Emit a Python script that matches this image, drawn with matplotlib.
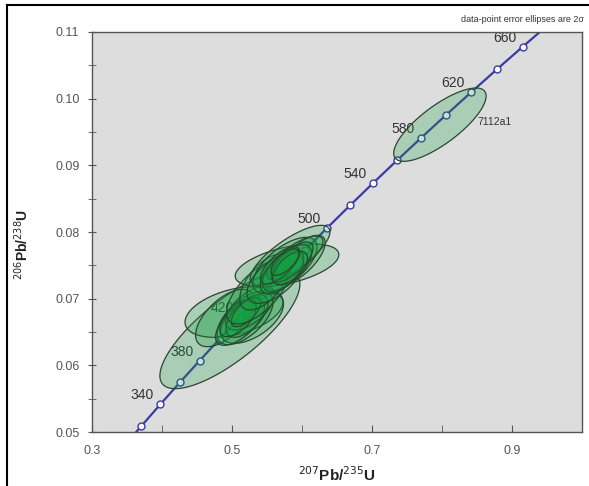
import matplotlib
matplotlib.use('Agg')
import matplotlib.pyplot as plt
import numpy as np
from matplotlib.patches import Polygon
from matplotlib.lines import Line2D

plt.rcParams['font.family'] = ['Liberation Sans', 'DejaVu Sans']

# concordia points (Ma) and their ratios
ages = [300, 320, 340, 360, 380, 400, 420, 440, 460, 480, 500,
        520, 540, 560, 580, 600, 620, 640, 660, 680, 700]
conc_x = [0.3437, 0.3705, 0.3977, 0.4255, 0.4539, 0.4828, 0.5123, 0.5424,
          0.5731, 0.6044, 0.6363, 0.6688, 0.7020, 0.7359, 0.7704, 0.8056,
          0.8415, 0.8782, 0.9155, 0.9536, 0.9925]
conc_y = [0.04764, 0.05089, 0.05416, 0.05743, 0.06072, 0.06402, 0.06732,
          0.07064, 0.07397, 0.07730, 0.08065, 0.08401, 0.08738, 0.09076,
          0.09414, 0.09754, 0.10095, 0.10438, 0.10781, 0.11125, 0.11470]
label_ages = [340, 380, 420, 500, 540, 580, 620, 660]

# error ellipses: centre, 2 sigma half-widths, correlation
ell_x = [0.497, 0.5029, 0.49, 0.5286, 0.5186, 0.5114, 0.5257, 0.5214,
         0.5086, 0.52,
         0.5371, 0.5471,
         0.5786, 0.5829, 0.5757, 0.5614, 0.5971, 0.59, 0.5786, 0.5714,
         0.5857, 0.5686, 0.5829, 0.5757,
         0.797]
ell_y = [0.0653, 0.0680, 0.0671, 0.0671, 0.0671, 0.0665, 0.0686, 0.0674,
         0.0671, 0.0680,
         0.0710, 0.0725,
         0.0750, 0.0765, 0.0750, 0.0731, 0.0758, 0.0761, 0.0746, 0.0740,
         0.0755, 0.0750, 0.0746, 0.0755,
         0.0961]
ell_ex = [0.100, 0.070, 0.042, 0.045, 0.040, 0.035, 0.035, 0.030,
          0.026, 0.021,
          0.045, 0.036,
          0.074, 0.057, 0.046, 0.040, 0.036, 0.040, 0.035, 0.031,
          0.030, 0.028, 0.025, 0.020,
          0.066]
ell_ey = [0.0088, 0.0038, 0.0043, 0.0038, 0.0040, 0.0035, 0.0033, 0.0032,
          0.0028, 0.0022,
          0.0048, 0.0042,
          0.0032, 0.0045, 0.0042, 0.0038, 0.0037, 0.0033, 0.0035, 0.0033,
          0.0030, 0.0028, 0.0025, 0.0020,
          0.0055]
ell_rho = [0.78, 0.4, 0.6, 0.55, 0.6, 0.65, 0.6, 0.6,
           0.6, 0.65,
           0.65, 0.6,
           0.5, 0.78, 0.65, 0.6, 0.7, 0.75, 0.65, 0.6,
           0.7, 0.7, 0.6, 0.65,
           0.78]

fig = plt.figure(figsize=(5.89, 4.86), dpi=100)
ax = fig.add_axes([92/589, 54/486, 490/589, 400/486])
ax.set_facecolor('#dddddd')

line_c = '#3b3ba3'
ax.plot(conc_x, conc_y, color=line_c, lw=1.6, zorder=2,
        marker='o', ms=5, mfc='white', mec=line_c, mew=1.0)

for a in label_ages:
    i = ages.index(a)
    ax.annotate(str(a), (conc_x[i], conc_y[i]), xytext=(-18, 9),
                textcoords='offset pixels', ha='center', va='center',
                fontsize=10, color='#333333', zorder=1)

t = np.linspace(0, 2*np.pi, 120)
for cx, cy, ex, ey, r in zip(ell_x, ell_y, ell_ex, ell_ey, ell_rho):
    px = cx + ex*np.cos(t)
    py = cy + ey*(r*np.cos(t) + np.sqrt(1 - r**2)*np.sin(t))
    ax.add_patch(Polygon(np.column_stack([px, py]), closed=True,
                         facecolor=(0.08, 0.62, 0.25, 0.25),
                         edgecolor='#2a4630', lw=0.9, zorder=3))

ax.text(0.875, 0.0965, '7112a1', fontsize=7.5, color='#333333',
        ha='center', va='center', zorder=4)

ax.set_xlim(0.3, 1.0)
ax.set_ylim(0.05, 0.11)
ax.set_xticks([0.3, 0.5, 0.7, 0.9])
ax.set_xticklabels(['0.3', '0.5', '0.7', '0.9'])
ax.set_xticks([0.4, 0.6, 0.8], minor=True)
yt = [0.05, 0.06, 0.07, 0.08, 0.09, 0.10, 0.11]
ax.set_yticks(yt)
ax.set_yticklabels(['%.2f' % v for v in yt])
ax.set_yticks([0.055, 0.065, 0.075, 0.085, 0.095, 0.105], minor=True)
ax.tick_params(axis='x', which='both', direction='in', length=5,
               colors='#555555', labelsize=9, pad=9)
ax.tick_params(axis='y', which='both', direction='inout', length=6,
               colors='#555555', labelsize=9, pad=6)
for s in ax.spines.values():
    s.set_color('#555555')
    s.set_linewidth(1.0)

ax.set_xlabel('$^{207}$Pb/$^{235}$U', fontsize=11, fontweight='bold',
              color='#222222', labelpad=6)
fig.text(22/589, 1 - 245/486, '$^{206}$Pb/$^{238}$U', rotation=90,
         fontsize=10, fontweight='bold', color='#222222',
         ha='center', va='center')

fig.text(584/589, 1 - 19/486, 'data-point error ellipses are 2\u03c3',
         fontsize=6.5, color='#333333', ha='right', va='center')

# outer frame (left and top edge of the original screenshot)
fig.add_artist(Line2D([7/589, 7/589], [0, 1 - 5/486], color='black',
                      lw=1.5, transform=fig.transFigure))
fig.add_artist(Line2D([7/589, 1], [1 - 5/486, 1 - 5/486], color='black',
                      lw=1.5, transform=fig.transFigure))

fig.savefig('out.png', dpi=100)
